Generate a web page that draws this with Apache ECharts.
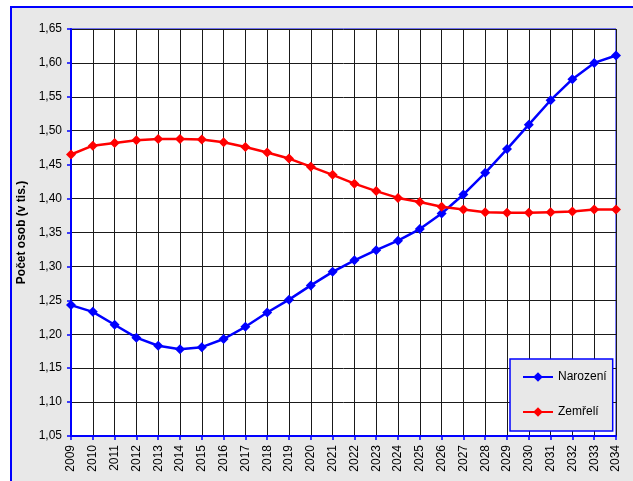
<!DOCTYPE html>
<html><head><meta charset="utf-8">
<script src="https://cdn.jsdelivr.net/npm/echarts@6/dist/echarts.min.js"></script>
<style>html,body{margin:0;padding:0;background:#fff;}#c{width:633px;height:481px;}</style>
</head><body><div id="c"></div>
<script>
const years = ['2009','2010','2011','2012','2013','2014','2015','2016','2017','2018','2019','2020','2021','2022','2023','2024','2025','2026','2027','2028','2029','2030','2031','2032','2033','2034'];
const narozeni = [1.243,1.233,1.214,1.195,1.183,1.178,1.181,1.193,1.211,1.232,1.251,1.272,1.292,1.309,1.324,1.338,1.355,1.378,1.406,1.438,1.473,1.509,1.545,1.576,1.600,1.611];
const zemreli = [1.465,1.478,1.482,1.486,1.488,1.488,1.487,1.483,1.476,1.468,1.459,1.447,1.435,1.422,1.411,1.401,1.395,1.388,1.384,1.380,1.379,1.379,1.380,1.381,1.384,1.384];
const seriesNames = ['Narození','Zemřelí'];
const yAxisName = 'Počet osob (v tis.)';

const chart = echarts.init(document.getElementById('c'), null, {renderer:'canvas'});
const font = 'Arial, "Liberation Sans", sans-serif';
chart.setOption({
  animation:false,
  backgroundColor:'#ffffff',
  graphic:[{type:'rect', z:-10, silent:true, shape:{x:11,y:7,width:700,height:600}, style:{fill:'#e8e8e8', stroke:'#0000ff', lineWidth:2}}],
  grid:{left:71, top:29, width:545, height:407, show:true, backgroundColor:'#ffffff', borderColor:'#0000ff', borderWidth:1},
  legend:{
    orient:'vertical', left:510, top:359,
    padding:[12,6,13,12], itemGap:23, itemWidth:30, itemHeight:12,
    backgroundColor:'#e8e8e8', borderColor:'#0000ff', borderWidth:1.5,
    textStyle:{fontFamily:font, fontSize:12, color:'#000'},
    data:seriesNames
  },
  xAxis:{
    type:'category', data:years, boundaryGap:false,
    axisLine:{lineStyle:{color:'#0000ff', width:2}},
    axisTick:{show:true, length:4, lineStyle:{color:'#0000ff', width:1.5}},
    axisLabel:{rotate:90, fontFamily:font, fontSize:12, color:'#000', margin:9, interval:0},
    splitLine:{show:true, lineStyle:{color:'#1a1a1a', width:1}}
  },
  yAxis:{
    type:'value', min:1.05, max:1.65, interval:0.05,
    name:yAxisName, nameLocation:'middle', nameGap:43, nameRotate:90,
    nameTextStyle:{fontFamily:font, fontSize:12, fontWeight:'bold', color:'#000'},
    axisLine:{show:true, lineStyle:{color:'#0000ff', width:2}},
    axisTick:{show:true, length:4, lineStyle:{color:'#0000ff', width:1.5}},
    axisLabel:{fontFamily:font, fontSize:12, color:'#000', margin:9,
      formatter:v=>v.toFixed(2).replace('.',',')},
    splitLine:{show:true, lineStyle:{color:'#1a1a1a', width:1}}
  },
  series:[
    {name:seriesNames[0], type:'line', data:narozeni, symbol:'diamond', symbolSize:10,
     lineStyle:{color:'#0000ff', width:2.5}, itemStyle:{color:'#0000ff'}},
    {name:seriesNames[1], type:'line', data:zemreli, symbol:'diamond', symbolSize:10,
     lineStyle:{color:'#ff0000', width:2.5}, itemStyle:{color:'#ff0000'}}
  ]
});
</script></body></html>
